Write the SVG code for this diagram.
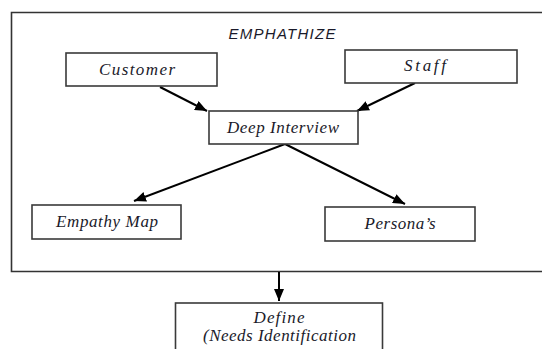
<svg xmlns="http://www.w3.org/2000/svg" width="542" height="349" viewBox="0 0 542 349">
<defs>
<style>
.box{fill:#fff;stroke:#3a3a3a;stroke-width:1.6}
.lbl{font-family:"Liberation Serif","Times New Roman",serif;font-style:italic;font-size:17px;fill:#1a1a2a;text-anchor:middle}
.edge{stroke:#000;stroke-width:2;fill:none}
</style>
<marker id="ah" viewBox="0 0 12 10" refX="12" refY="5" markerWidth="12" markerHeight="10" markerUnits="userSpaceOnUse" orient="auto">
<path d="M0,0 L12,5 L0,10 z" fill="#000"/>
</marker>
</defs>
<rect width="542" height="349" fill="#fff"/>
<g id="frame">
<path d="M545,12.5 H11.5 V271.5 H545" fill="none" stroke="#333" stroke-width="1.6"/>
<text x="282" y="39" font-family="Liberation Sans, Arial, sans-serif" font-style="italic" font-size="15" fill="#1a1a2a" text-anchor="middle" textLength="107" lengthAdjust="spacing">EMPHATHIZE</text>
</g>
<g id="connectors">
<line class="edge" x1="160" y1="87" x2="207" y2="111" marker-end="url(#ah)"/>
<line class="edge" x1="415" y1="83" x2="357" y2="111" marker-end="url(#ah)"/>
<line class="edge" x1="285" y1="144" x2="134" y2="201" marker-end="url(#ah)"/>
<line class="edge" x1="285" y1="144" x2="405" y2="204" marker-end="url(#ah)"/>
<line class="edge" x1="279" y1="272" x2="279" y2="301" marker-end="url(#ah)"/>
</g>
<g id="customer">
<rect class="box" x="66" y="53" width="151" height="33"/>
<text class="lbl" x="137" y="75" textLength="76" lengthAdjust="spacing">Customer</text>
</g>
<g id="staff">
<rect class="box" x="345" y="50" width="172" height="33"/>
<text class="lbl" x="425" y="71" textLength="42" lengthAdjust="spacing">Staff</text>
</g>
<g id="deep-interview">
<rect class="box" x="209" y="111" width="149" height="33"/>
<text class="lbl" x="283" y="133" textLength="112" lengthAdjust="spacing">Deep Interview</text>
</g>
<g id="empathy-map">
<rect class="box" x="32" y="205" width="149" height="34"/>
<text class="lbl" x="107" y="227" textLength="102" lengthAdjust="spacing">Empathy Map</text>
</g>
<g id="personas">
<rect class="box" x="325" y="207" width="150" height="34"/>
<text class="lbl" x="400" y="229" textLength="71" lengthAdjust="spacing">Persona’s</text>
</g>
<g id="define">
<rect class="box" x="175.5" y="303" width="207" height="60"/>
<text class="lbl" x="279" y="323" textLength="51" lengthAdjust="spacing">Define</text>
<text class="lbl" x="279.5" y="341" textLength="153" lengthAdjust="spacing">(Needs Identification</text>
</g>
</svg>
